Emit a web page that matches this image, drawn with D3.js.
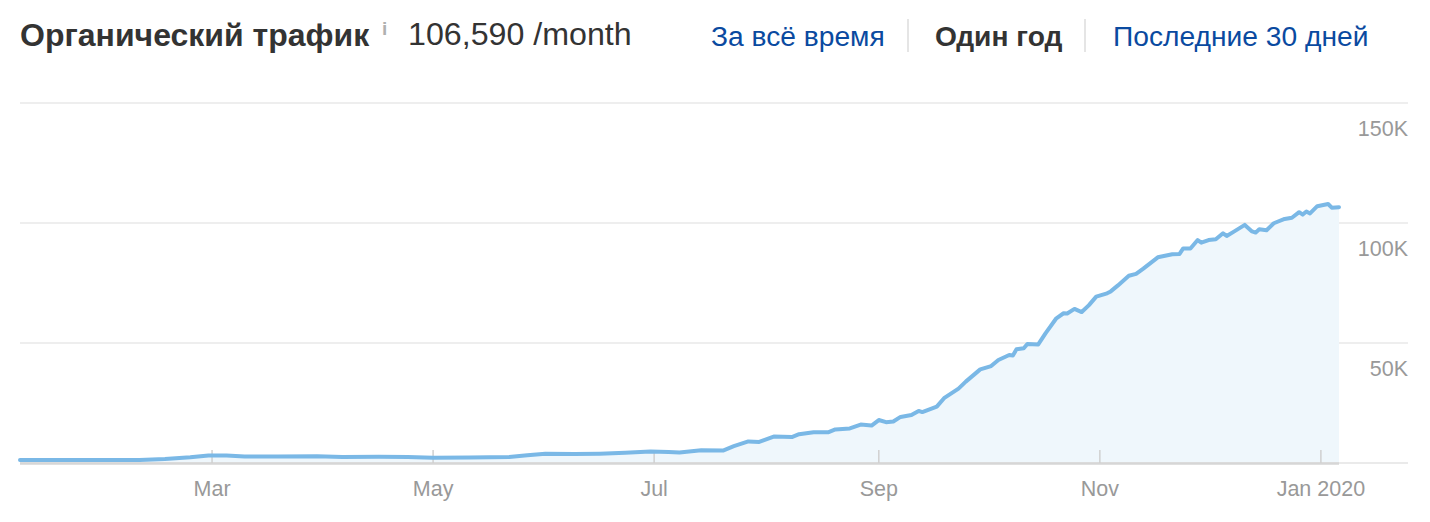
<!DOCTYPE html>
<html><head><meta charset="utf-8">
<script src="https://cdn.jsdelivr.net/npm/d3@7"></script>
<style>
html,body{margin:0;padding:0;background:#fff;}
svg{display:block;font-family:"Liberation Sans",Arial,Helvetica,sans-serif;}
</style></head>
<body>
<svg id="c" width="1430" height="522"></svg>
<script>
const dates = ["2019-01-07","2019-01-18","2019-01-29","2019-02-09","2019-02-16","2019-02-23","2019-02-28","2019-03-05","2019-03-10","2019-03-19","2019-03-30","2019-04-06","2019-04-16","2019-04-24","2019-05-01","2019-05-11","2019-05-22","2019-05-27","2019-06-01","2019-06-09","2019-06-16","2019-06-23","2019-06-30","2019-07-05","2019-07-08","2019-07-14","2019-07-20","2019-07-23","2019-07-27","2019-07-30","2019-08-03","2019-08-08","2019-08-10","2019-08-14","2019-08-18","2019-08-20","2019-08-24","2019-08-27","2019-08-30","2019-09-01","2019-09-03","2019-09-05","2019-09-07","2019-09-10","2019-09-12","2019-09-13","2019-09-17","2019-09-19","2019-09-23","2019-09-25","2019-09-29","2019-10-02","2019-10-04","2019-10-07","2019-10-08","2019-10-09","2019-10-11","2019-10-12","2019-10-15","2019-10-17","2019-10-20","2019-10-22","2019-10-23","2019-10-25","2019-10-27","2019-10-29","2019-10-31","2019-11-03","2019-11-04","2019-11-06","2019-11-09","2019-11-11","2019-11-13","2019-11-17","2019-11-21","2019-11-23","2019-11-24","2019-11-26","2019-11-28","2019-11-29","2019-12-01","2019-12-03","2019-12-05","2019-12-06","2019-12-08","2019-12-11","2019-12-13","2019-12-14","2019-12-15","2019-12-17","2019-12-19","2019-12-22","2019-12-24","2019-12-26","2019-12-27","2019-12-28","2019-12-29","2019-12-31","2020-01-03","2020-01-04","2020-01-06"];
const traffic = [1200,1200,1200,1300,1700,2400,3100,3100,2700,2700,2800,2500,2600,2500,2200,2300,2500,3200,3900,3700,3900,4300,4800,4600,4400,5300,5200,7000,9000,8800,11000,10800,12000,12800,12800,14000,14400,16000,15600,17900,17000,17300,19200,20000,21700,21200,23500,27000,31000,33900,39000,40400,42900,45000,44800,47400,47800,49600,49400,54000,60300,62400,62300,64200,62900,65800,69300,70700,71500,74000,78000,78800,81000,85700,87000,87100,89400,89400,92900,91800,92900,93200,95700,94600,96400,99200,96500,96000,97400,97000,99900,101700,102200,104500,103500,104800,104000,107000,107900,106400,106600];
const yTicks = [0,50000,100000,150000];
const yTickLabels = ["","50K","100K","150K"];
const xTicks = ["2019-03-01","2019-05-01","2019-07-01","2019-09-01","2019-11-01","2020-01-01"];
const xTickLabels = ["Mar","May","Jul","Sep","Nov","Jan 2020"];
const tabs = ["За всё время","Один год","Последние 30 дней"];
const title = "Органический трафик";
const subtitle = "106,590 /month";

const parse = d3.timeParse("%Y-%m-%d");
const data = dates.map((d,i)=>({date:parse(d), v:traffic[i]}));
const svg = d3.select("#c");

const mLeft = 20, mRight = 1408, plotRight = 1339, mTop = 103, mBottom = 463;
const x = d3.scaleTime().domain([parse("2019-01-07"), parse("2020-01-06")]).range([mLeft, plotRight]);
const y = d3.scaleLinear().domain([0,150000]).range([mBottom, mTop]);

// header
svg.append("text").attr("x",20).attr("y",45.5).attr("font-size",32).attr("font-weight","bold").attr("fill","#333").text(title);
svg.append("text").attr("x",382).attr("y",35).attr("font-size",19).attr("font-weight","bold").attr("fill","#b0b0b0").text("i");
svg.append("text").attr("x",408).attr("y",44.5).attr("font-size",32.2).attr("fill","#333").text(subtitle);

const tabX = [711, 935, 1113];
tabs.forEach((t,i)=>{
  svg.append("text").attr("x",tabX[i]).attr("y",46).attr("font-size",28.2)
    .attr("font-weight", i===1?"bold":"normal").attr("fill", i===1?"#333":"#0a4aa0").text(t);
});
[908,1085].forEach(sx=>svg.append("line").attr("x1",sx).attr("x2",sx).attr("y1",19).attr("y2",52).attr("stroke","#ddd").attr("stroke-width",1.5));

// gridlines
svg.append("g").selectAll("line").data(yTicks.slice(1)).join("line")
  .attr("x1",mLeft).attr("x2",mRight).attr("y1",d=>y(d)).attr("y2",d=>y(d))
  .attr("stroke","#e8e8e8").attr("stroke-width",1.5);

// area
const area = d3.area().x(d=>x(d.date)).y0(mBottom).y1(d=>y(d.v)).curve(d3.curveLinear);
svg.append("path").datum(data).attr("d",area).attr("fill","#eff7fc");

// baseline
svg.append("line").attr("x1",mLeft).attr("x2",mRight).attr("y1",mBottom).attr("y2",mBottom).attr("stroke","#eaeaea").attr("stroke-width",2);
svg.append("line").attr("x1",mLeft).attr("x2",plotRight).attr("y1",mBottom+0.5).attr("y2",mBottom+0.5).attr("stroke","#d6d6d6").attr("stroke-width",2.5);

// x ticks
const xg = svg.append("g");
xTicks.forEach((t,i)=>{
  const px = x(parse(t));
  xg.append("line").attr("x1",px).attr("x2",px).attr("y1",mBottom-13).attr("y2",mBottom).attr("stroke","#d0d0d0").attr("stroke-width",1.5);
  xg.append("text").attr("x",px).attr("y",495.5).attr("text-anchor","middle").attr("font-size",21.5).attr("fill","#999").text(xTickLabels[i]);
});

// y labels
svg.append("g").selectAll("text").data(yTicks).join("text")
  .attr("x",mRight).attr("y",(d)=>y(d)+33).attr("text-anchor","end").attr("font-size",21.5).attr("fill","#999")
  .text((d,i)=>yTickLabels[i]);

// line
const line = d3.line().x(d=>x(d.date)).y(d=>y(d.v));
svg.append("path").datum(data).attr("d",line).attr("fill","none").attr("stroke","#7ab8e6").attr("stroke-width",4).attr("stroke-linejoin","round").attr("stroke-linecap","round");
</script>
</body></html>
